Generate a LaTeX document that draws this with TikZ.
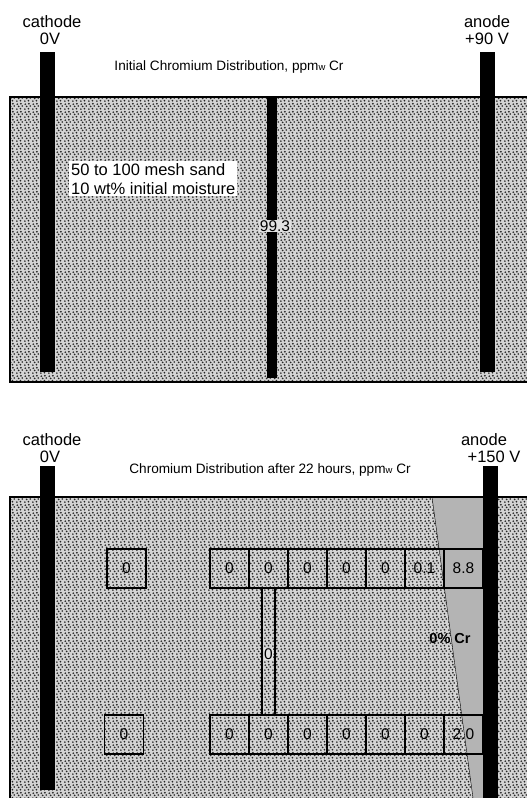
\documentclass[tikz,border=0pt]{standalone}
\usepackage{fontspec}
\setmainfont{Liberation Sans}
\usetikzlibrary{positioning, patterns, calc}
\definecolor{sandgray}{RGB}{212,212,212}
\definecolor{crgray}{RGB}{180,180,180}

% stippled sand texture
\pgfdeclarepatternformonly{sanddots}{\pgfpointorigin}{\pgfqpoint{8pt}{8pt}}{\pgfqpoint{8pt}{8pt}}{
    \pgfpathcircle{\pgfqpoint{1pt}{1pt}}{1.05pt}
    \pgfpathcircle{\pgfqpoint{5pt}{1.5pt}}{1.05pt}
    \pgfpathcircle{\pgfqpoint{3pt}{4pt}}{1.05pt}
    \pgfpathcircle{\pgfqpoint{7pt}{4.5pt}}{1.05pt}
    \pgfpathcircle{\pgfqpoint{1.5pt}{6.5pt}}{1.05pt}
    \pgfpathcircle{\pgfqpoint{5.5pt}{7pt}}{1.05pt}
    \pgfusepath{fill}
}

\tikzset{
    sand/.style={fill=sandgray, postaction={pattern=sanddots, pattern color=black!85}},
    electrode/.style={fill=black},
    lbl/.style={font=\fontsize{16.5}{16.5}\selectfont, inner sep=1pt},
    ttl/.style={font=\fontsize{13.6}{13.6}\selectfont, inner sep=1pt},
    cell/.style={draw, line width=1.2pt, minimum width=39pt, minimum height=39pt, inner sep=0pt, outer sep=0pt, font=\fontsize{15.5}{15.5}\selectfont},
    val/.style={font=\fontsize{15.5}{15.5}\selectfont, inner sep=0.5pt},
}

\begin{document}
\begin{tikzpicture}[x=1pt, y=-1pt]
    \useasboundingbox (0,0) rectangle (527,798);

    % initial distribution
    \fill[sand] (10,97) rectangle (527,382);
    \draw[line width=1.2pt] (527,97) -- (10,97) -- (10,382) -- (527,382);
    \fill[electrode] (40,52) rectangle (55,372);
    \fill[electrode] (480,52) rectangle (495,372);
    \fill[electrode] (267,97) rectangle (277,378);
    \node[lbl, anchor=base] (cat1) at (52,27) {cathode};
    \node[lbl, anchor=base] (cv1) at (50,44) {0V};
    \node[lbl, anchor=base] (an1) at (487,27) {anode};
    \node[lbl, anchor=base] (av1) at (487,44) {+90 V};
    \node[ttl] (t1) at (229,67) {Initial Chromium Distribution, ppm{\fontsize{9.5}{9.5}\selectfont w} Cr};
    \node[font=\fontsize{16.5}{19}\selectfont, fill=white, align=left, anchor=north west, inner sep=2pt] (sand1) at (69,161)
        {50 to 100 mesh sand\\10 wt\% initial moisture};
    \node[val, fill=sandgray!70] (c0) at (275,226) {99.3};

    % after 22 hours
    \fill[sand] (10,497) rectangle (527,798);
    \fill[crgray] (432,497) -- (483,497) -- (483,798) -- (473,798) -- cycle;
    \draw (432,497) -- (473,798);
    \draw[line width=1.2pt] (527,497) -- (10,497) -- (10,798);
    \fill[electrode] (40,466) rectangle (55,790);
    \fill[electrode] (483,466) rectangle (498,798);
    \node[lbl, anchor=base] (cat2) at (52,445) {cathode};
    \node[lbl, anchor=base] (cv2) at (50,462) {0V};
    \node[lbl, anchor=base] (an2) at (484,445) {anode};
    \node[lbl, anchor=base] (av2) at (494,462) {+150 V};
    \node[ttl] (t2) at (270,470) {Chromium Distribution after 22 hours, ppm{\fontsize{9.5}{9.5}\selectfont w} Cr};

    % sample cells
    \node[cell] (a0) at (126.5,568.5) {0};
    \node[cell] (b0) at (124,734.5) {0};
    \node[cell] (a1) at (229.5,568.5) {0};
    \node[cell] (b1) at (229.5,734.5) {0};
    \foreach \v [count=\i from 2, evaluate=\i as \j using int(\i-1)] in {0,0,0,0,0.1,8.8}
        \node[cell, right=0pt of a\j] (a\i) {\v};
    \foreach \v [count=\i from 2, evaluate=\i as \j using int(\i-1)] in {0,0,0,0,0,2.0}
        \node[cell, right=0pt of b\j] (b\i) {\v};
    \draw[line width=1.2pt] ([xshift=-6.5pt]a2.south) -- ([xshift=-6.5pt]b2.north)
        ([xshift=6.5pt]a2.south) -- ([xshift=6.5pt]b2.north);
    \node[val, fill=sandgray!70] (tube) at ($(a2.south)!0.52!(b2.north)$) {0};
    \node[font=\bfseries\fontsize{14.5}{14.5}\selectfont, inner sep=1pt] (zero) at (450,638) {0\% Cr};
\end{tikzpicture}
\end{document}
